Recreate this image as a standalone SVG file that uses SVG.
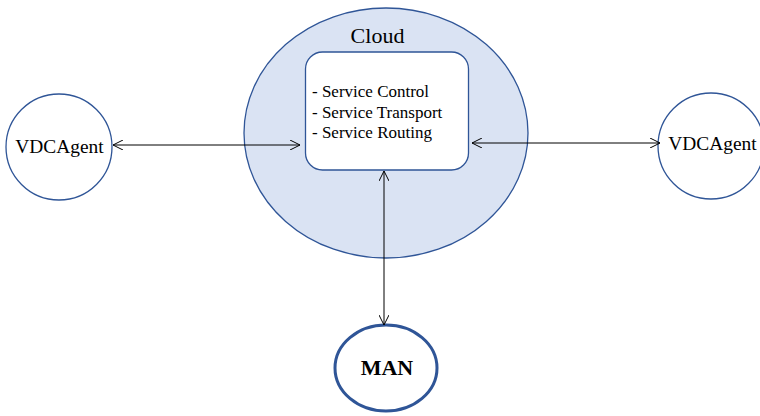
<svg xmlns="http://www.w3.org/2000/svg" width="760" height="416" viewBox="0 0 760 416">
<style>
.node{fill:#fff;stroke:#2F5597;stroke-width:1.3}
.t{font-family:"Liberation Serif","Times New Roman",serif;fill:#000}
.c{stroke:#000;stroke-width:1;fill:none}
</style>
<defs>
<marker id="ah" viewBox="0 0 10 10" refX="10" refY="5" markerWidth="10" markerHeight="10" markerUnits="userSpaceOnUse" orient="auto-start-reverse">
<path d="M0,0 L10,5 L0,10" fill="none" stroke="#000" stroke-width="1"/>
</marker>
</defs>
<rect width="760" height="416" fill="#fff"/>
<g id="cloud">
<ellipse cx="386" cy="133" rx="142" ry="125" fill="#DAE3F3" stroke="#2F5597" stroke-width="1.3"/>
<text class="t" x="377.5" y="43" font-size="22" text-anchor="middle">Cloud</text>
</g>
<g id="services">
<rect x="305.5" y="52" width="163" height="118" rx="17" class="node"/>
<text class="t" x="312" y="97" font-size="17">- Service Control</text>
<text class="t" x="312" y="118" font-size="17">- Service Transport</text>
<text class="t" x="312" y="138" font-size="17">- Service Routing</text>
</g>
<g id="agent-left">
<circle cx="59" cy="147" r="53" class="node"/>
<text class="t" x="59.5" y="153" font-size="19.4" text-anchor="middle">VDCAgent</text>
</g>
<g id="agent-right">
<circle cx="711" cy="146" r="53" class="node"/>
<text class="t" x="712.5" y="150" font-size="19.4" text-anchor="middle">VDCAgent</text>
</g>
<g id="man">
<ellipse cx="386" cy="368" rx="51" ry="43" fill="#fff" stroke="#2F5597" stroke-width="3"/>
<text class="t" x="387" y="375" font-size="22" font-weight="bold" text-anchor="middle">MAN</text>
</g>
<g id="connectors">
<line class="c" x1="113" y1="145" x2="300" y2="145" marker-start="url(#ah)" marker-end="url(#ah)"/>
<line class="c" x1="472" y1="143" x2="660" y2="143" marker-start="url(#ah)" marker-end="url(#ah)"/>
<line class="c" x1="384" y1="171" x2="384" y2="325" marker-start="url(#ah)" marker-end="url(#ah)"/>
</g>
</svg>
